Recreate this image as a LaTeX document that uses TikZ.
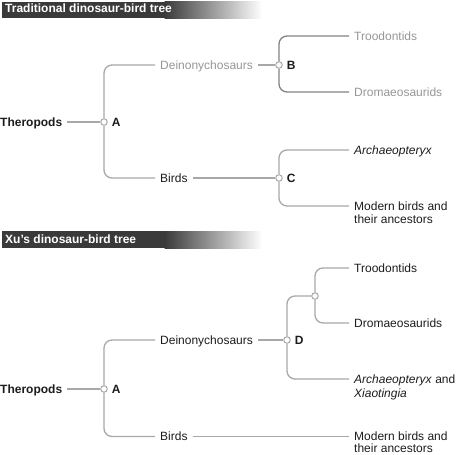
\documentclass[tikz,border=0pt]{standalone}
\usepackage{fontspec}
\setmainfont{Liberation Sans}
\usepackage{tikz}
\usetikzlibrary{positioning}
\definecolor{bardark}{RGB}{58,58,58}
\definecolor{linegray}{RGB}{168,168,168}
\definecolor{linedark}{RGB}{130,130,130}
\definecolor{inkgray}{RGB}{150,150,150}
\definecolor{inkdark}{RGB}{28,28,28}
\tikzset{
  tip/.style={anchor=west,inner xsep=5pt,inner ysep=1pt,text height=8.6pt,text depth=0pt,
    font=\fontsize{12}{14}\selectfont,text=inkdark},
  tipgray/.style={tip,text=inkgray},
  root/.style={tip,font=\fontsize{12}{14}\selectfont\bfseries},
  split/.style={circle,draw=linegray,line width=1pt,fill=white,minimum size=6.5pt,inner sep=0pt},
  letter/.style={anchor=west,inner sep=1pt,text height=8.6pt,text depth=0pt,
    font=\fontsize{12}{14}\selectfont\bfseries,text=inkdark},
  branch/.style={draw=linegray,line width=1.3pt,rounded corners=8pt},
  branchdark/.style={branch,draw=linedark},
  bartitle/.style={anchor=west,inner sep=0pt,text=white,font=\fontsize{12}{14}\selectfont\bfseries},
}
\begin{document}
\begin{tikzpicture}[x=1pt,y=-1pt]
  \useasboundingbox (0,0) rectangle (456,455);
  \fill[bardark] (2,1.5) rectangle (165,18);
  \shade[left color=bardark,right color=white] (164.5,1.5) rectangle (262,18);
  \node[bartitle] (head1) at (5,8.5) {Traditional dinosaur-bird tree};
  \node[root] (ther1) at (-5,122) {Theropods};
  \node[split] (a1) at (104,122) {};
  \node[letter,right=3pt of a1] (la1) {A};
  \node[tipgray] (deino1) at (155,65) {Deinonychosaurs};
  \node[tip] (birds1) at (155,178) {Birds};
  \node[split] (b1) at (279,65) {};
  \node[letter,right=3pt of b1] (lb1) {B};
  \node[tipgray] (troo1) at (349,36) {Troodontids};
  \node[tipgray] (drom1) at (349,92) {Dromaeosaurids};
  \node[split] (c1) at (279,178) {};
  \node[letter,right=3pt of c1] (lc1) {C};
  \node[tip] (arch1) at (349,150) {\itshape Archaeopteryx};
  \node[tip] (mod1) at (349,206) {Modern birds and};
  \node[tip] (mod1b) at (349,219.5) {their ancestors};
  \draw[branch] (ther1) -- (a1);
  \draw[branch] (a1) |- (deino1);
  \draw[branch] (a1) |- (birds1);
  \draw[branch] (deino1) -- (b1);
  \draw[branchdark] (b1) |- (troo1);
  \draw[branchdark] (b1) |- (drom1);
  \draw[branch] (birds1) -- (c1);
  \draw[branch] (c1) |- (arch1);
  \draw[branch] (c1) |- (mod1);
  \fill[bardark] (2,231) rectangle (165,248);
  \shade[left color=bardark,right color=white] (164.5,231) rectangle (262,248);
  \node[bartitle] (head2) at (5,239) {Xu's dinosaur-bird tree};
  \node[root] (ther2) at (-5,389) {Theropods};
  \node[split] (a2) at (104,389) {};
  \node[letter,right=3pt of a2] (la2) {A};
  \node[tip] (deino2) at (155,340) {Deinonychosaurs};
  \node[tip] (birds2) at (155,436.5) {Birds};
  \node[split] (d2) at (287,340) {};
  \node[letter,right=3pt of d2] (ld2) {D};
  \node[split] (x2) at (315,296) {};
  \node[tip] (troo2) at (349,268) {Troodontids};
  \node[tip] (drom2) at (349,323) {Dromaeosaurids};
  \node[tip] (arch2) at (349,379) {\textit{Archaeopteryx} and};
  \node[tip] (arch2b) at (349,393) {\textit{Xiaotingia}};
  \node[tip] (mod2) at (349,436.5) {Modern birds and};
  \node[tip] (mod2b) at (349,448.5) {their ancestors};
  \draw[branch] (ther2) -- (a2);
  \draw[branch] (a2) |- (deino2);
  \draw[branch] (a2) |- (birds2);
  \draw[branch] (deino2) -- (d2);
  \draw[branch] (d2) |- (x2);
  \draw[branch] (d2) |- (arch2);
  \draw[branch] (x2) |- (troo2);
  \draw[branch] (x2) |- (drom2);
  \draw[branch] (birds2) -- (mod2);
\end{tikzpicture}
\end{document}
